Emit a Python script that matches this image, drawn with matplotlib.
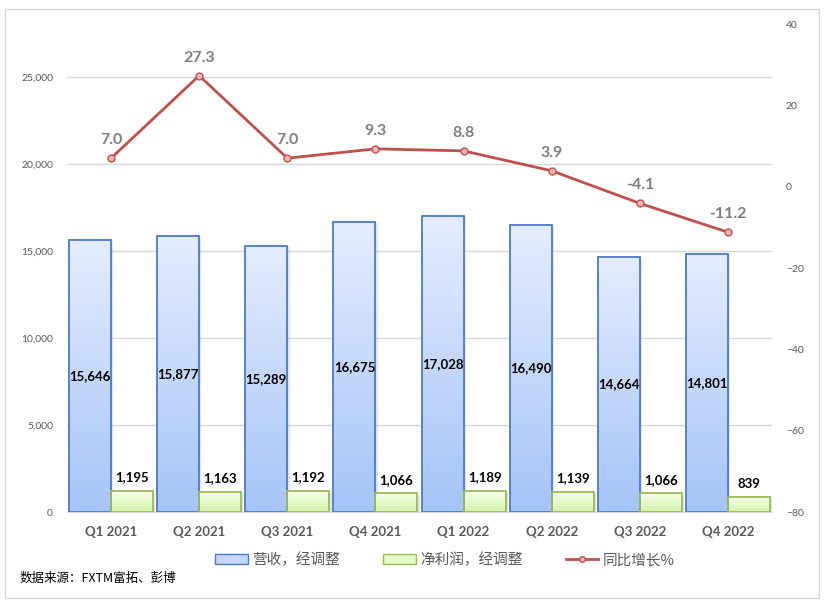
import numpy as np
import matplotlib
matplotlib.use('Agg')
import matplotlib.pyplot as plt
from matplotlib.patches import Rectangle, Patch
from matplotlib.lines import Line2D
from matplotlib.ticker import FuncFormatter, MultipleLocator

plt.rcParams['font.family'] = ['Lato', 'Noto Sans CJK SC', 'DejaVu Sans']

# data
quarters = ['Q1 2021', 'Q2 2021', 'Q3 2021', 'Q4 2021',
            'Q1 2022', 'Q2 2022', 'Q3 2022', 'Q4 2022']
revenue = [15646, 15877, 15289, 16675, 17028, 16490, 14664, 14801]
net_profit = [1195, 1163, 1192, 1066, 1189, 1139, 1066, 839]
yoy = [7.0, 27.3, 7.0, 9.3, 8.8, 3.9, -4.1, -11.2]

rev_label = '营收，经调整'
np_label = '净利润，经调整'
yoy_label = '同比增长%'
source_text = '数据来源：FXTM富拓、彭博'

cjk = ['Noto Sans CJK SC', 'DejaVu Sans']
gray = '#595959'


def gradient_bar(ax, x0, width, height, top, bottom, edge):
    # vertical gradient clipped to a bar rectangle
    c_top = np.array(matplotlib.colors.to_rgb(top))
    c_bot = np.array(matplotlib.colors.to_rgb(bottom))
    t = np.linspace(0, 1, 100)[:, None]
    img = (c_top * (1 - t) + c_bot * t)[:, None, :]
    ax.imshow(img, extent=(x0, x0 + width, 0, height), aspect='auto',
              origin='upper', zorder=2, interpolation='bilinear')
    # soft shadow on the right side
    ax.add_patch(Rectangle((x0 + 0.025, 0), width, height - 80,
                           facecolor='#000000', alpha=0.10, lw=0, zorder=1.5))
    ax.add_patch(Rectangle((x0, 0), width, height, facecolor='none',
                           edgecolor=edge, lw=1.3, zorder=3))


fig = plt.figure(figsize=(8.27, 6.05), dpi=100)
fig.patches.append(Rectangle((5 / 827, 7 / 605), 814 / 827, 589 / 605,
                             transform=fig.transFigure, facecolor='none',
                             edgecolor='#d9d9d9', lw=1))

ax = fig.add_axes([67 / 827, 93 / 605, 705 / 827, 488 / 605])
ax2 = ax.twinx()

x = np.arange(len(quarters))
w = 0.477
for i in x:
    gradient_bar(ax, i - w, w, revenue[i], '#e4edfe', '#a6c4f8', '#4a7cc4')
    gradient_bar(ax, i, w, net_profit[i], '#f7fde8', '#d5f4ad', '#9bbb59')
    ax.text(i - w / 2, revenue[i] / 2, f'{revenue[i]:,}', ha='center',
            va='center', fontsize=9.5, fontweight='bold', color='black', zorder=4)
    ax.text(i + w / 2, net_profit[i] + 450, f'{net_profit[i]:,}', ha='center',
            va='bottom', fontsize=9.5, fontweight='bold', color='black', zorder=4)

ax.set_xlim(-0.5, len(quarters) - 0.5)
ax.set_ylim(0, 28046)
ax.yaxis.set_major_locator(MultipleLocator(5000))
ax.yaxis.set_major_formatter(FuncFormatter(lambda v, p: f'{int(v):,}'))
ax.grid(axis='y', color='#d9d9d9', lw=1, zorder=0)
ax.set_axisbelow(True)
ax.set_xticks(x)
ax.set_xticklabels(quarters, fontsize=9.5, fontweight='bold', color=gray)
ax.tick_params(axis='x', length=0, pad=10)
ax.tick_params(axis='y', length=0, labelsize=7.5, labelcolor=gray, pad=10)
for s in ['top', 'right', 'left']:
    ax.spines[s].set_visible(False)
ax.spines['bottom'].set_color('#d9d9d9')

ax2.plot(x, yoy, color='#c0504d', lw=2, marker='o', ms=5,
         mfc='#f4b6b4', mec='#c0504d', mew=1, zorder=5)
for i, v in enumerate(yoy):
    ax2.annotate(f'{v:.1f}', (i, v), xytext=(0, 8), textcoords='offset points',
                 ha='center', va='bottom', fontsize=11.5, fontweight='bold',
                 color='#7f7f7f')
ax2.set_ylim(-80, 40)
ax2.yaxis.set_major_locator(MultipleLocator(20))
ax2.tick_params(axis='y', length=0, labelsize=7.5, labelcolor=gray, pad=10)
for s in ax2.spines.values():
    s.set_visible(False)

handles = [Patch(facecolor='#c5d8fb', edgecolor='#4a7cc4', lw=1),
           Patch(facecolor='#e6f9c8', edgecolor='#9bbb59', lw=1),
           Line2D([], [], color='#c0504d', lw=2, marker='o', ms=4,
                  mfc='#f4b6b4', mec='#c0504d')]
fig.legend(handles, [rev_label, np_label, yoy_label], loc='center',
           bbox_to_anchor=(445 / 827, 1 - 560 / 605), ncol=3, frameon=False,
           prop={'family': cjk, 'size': 10.5}, labelcolor=gray,
           handlelength=2.2, handleheight=0.7, handletextpad=0.3,
           columnspacing=3.0)

fig.text(20 / 827, 1 - 578 / 605, source_text, fontsize=9, color='black',
         ha='left', va='center', family=cjk)

fig.savefig('out.png', dpi=100)
